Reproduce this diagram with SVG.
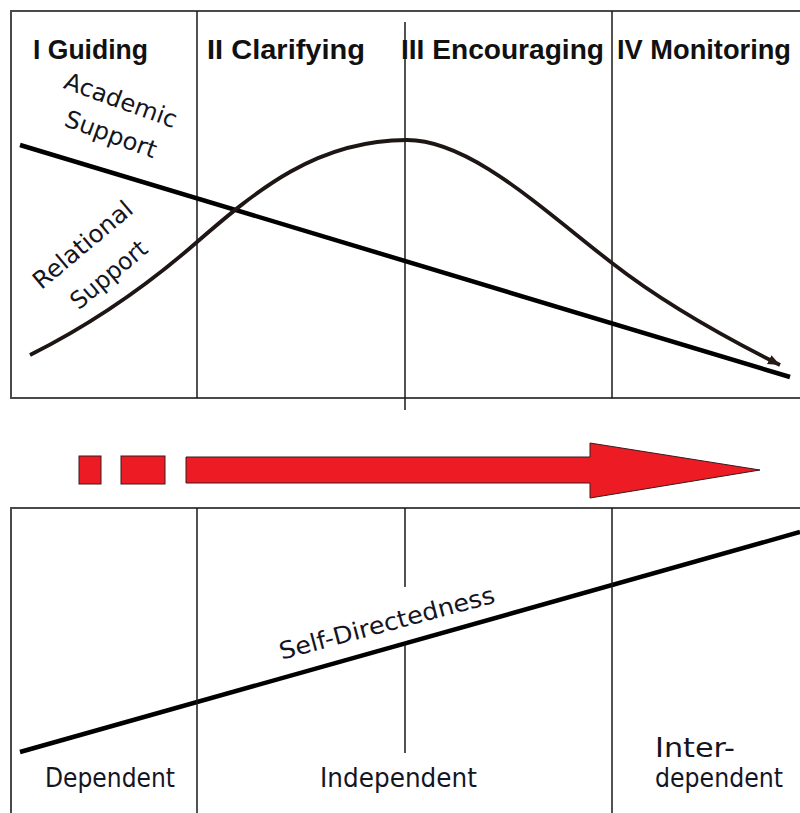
<svg xmlns="http://www.w3.org/2000/svg" width="800" height="813" viewBox="0 0 800 813">
<style>
.frame{fill:none;stroke:#4a4a4a;stroke-width:2}
.div{fill:none;stroke:#1a1a1a;stroke-width:1.5}
.head{font-family:"Liberation Sans","DejaVu Sans",sans-serif;font-weight:bold;font-size:27px;fill:#111}
.lbl{font-family:"DejaVu Sans","Noto Sans",sans-serif;font-size:24px;fill:#15151f}
.bot{font-family:"DejaVu Sans","Noto Sans",sans-serif;font-size:26px;fill:#15151f}
.red{fill:#ed1c24;stroke:#3a1a1a;stroke-width:1}
</style>
<defs>
<marker id="ah" markerUnits="userSpaceOnUse" markerWidth="14" markerHeight="12" refX="12" refY="5" orient="auto">
<path d="M0,0 L12,5 L0,10 Z" fill="#2a1a18"/>
</marker>
</defs>
<rect width="800" height="813" fill="#fff"/>
<g id="top-panel">
<path class="frame" d="M800,11 H11 V398 H800"/>
<path class="div" d="M197,11 V398 M405,22 V410 M612,11 V398"/>
</g>
<g id="phase-1"><text class="head" x="33" y="59" textLength="115" lengthAdjust="spacingAndGlyphs">I Guiding</text></g>
<g id="phase-2"><text class="head" x="207" y="59" textLength="158" lengthAdjust="spacingAndGlyphs">II Clarifying</text></g>
<g id="phase-3"><text class="head" x="401" y="59" textLength="203" lengthAdjust="spacingAndGlyphs">III Encouraging</text></g>
<g id="phase-4"><text class="head" x="617" y="59" textLength="174" lengthAdjust="spacingAndGlyphs">IV Monitoring</text></g>
<g id="academic-label">
<text class="lbl" transform="translate(118,108) rotate(20)" text-anchor="middle" textLength="118" lengthAdjust="spacingAndGlyphs">Academic</text>
<text class="lbl" transform="translate(108,142) rotate(20)" text-anchor="middle" textLength="96" lengthAdjust="spacingAndGlyphs">Support</text>
</g>
<g id="relational-label">
<text class="lbl" transform="translate(88,251) rotate(-40)" text-anchor="middle" textLength="122" lengthAdjust="spacingAndGlyphs">Relational</text>
<text class="lbl" transform="translate(114,281) rotate(-40)" text-anchor="middle" textLength="92" lengthAdjust="spacingAndGlyphs">Support</text>
</g>
<g id="connectors">
<line x1="20" y1="145" x2="790" y2="377" stroke="#000" stroke-width="4.5"/>
<path d="M30,355 C86,327 141,291 197,242 C257,190 317,140 407,140 C470,140 542,209 612,263 C662,302 720,335 780,365" fill="none" stroke="#1e1614" stroke-width="3.8" marker-end="url(#ah)"/>
<line x1="20" y1="752" x2="800" y2="532" stroke="#000" stroke-width="4.5"/>
</g>
<g id="progress-arrow">
<rect class="red" x="79" y="456" width="22" height="28"/>
<rect class="red" x="121" y="456" width="44" height="28"/>
<path class="red" d="M186,457 H590 V443 L760,470 L590,498 V483 H186 Z"/>
</g>
<g id="bottom-panel">
<path class="frame" d="M800,508 H11 V813"/>
<path class="div" d="M197,508 V813 M612,508 V813 M405,508 V587 M405,645 V753"/>
</g>
<g id="self-directedness">
<text class="lbl" transform="translate(389,631) rotate(-15)" text-anchor="middle" textLength="222" lengthAdjust="spacingAndGlyphs">Self-Directedness</text>
</g>
<g id="dependent"><text class="bot" x="45" y="787" textLength="130" lengthAdjust="spacingAndGlyphs">Dependent</text></g>
<g id="independent"><text class="bot" x="320" y="787" textLength="157" lengthAdjust="spacingAndGlyphs">Independent</text></g>
<g id="interdependent">
<text class="bot" x="655" y="757" textLength="80" lengthAdjust="spacingAndGlyphs">Inter-</text>
<text class="bot" x="655" y="787" textLength="128" lengthAdjust="spacingAndGlyphs">dependent</text>
</g>
</svg>
